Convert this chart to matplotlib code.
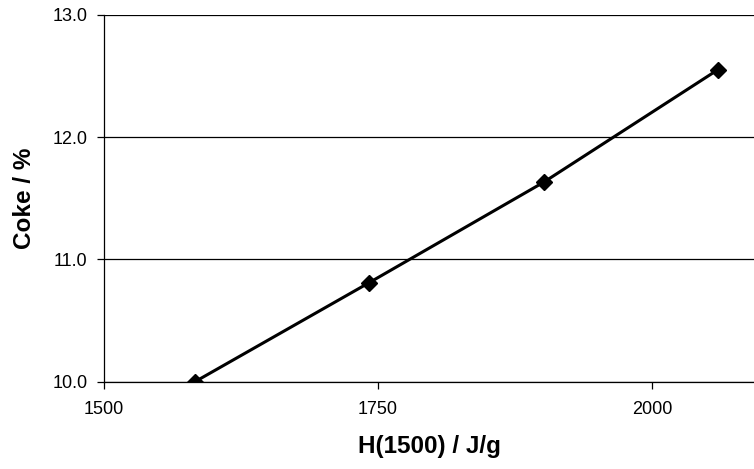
import matplotlib
matplotlib.use("Agg")
import matplotlib.pyplot as plt

# Datos
h1500 = [1583, 1742, 1901, 2060]
coke = [10.0, 10.81, 11.63, 12.55]
xticks = [1500, 1750, 2000]
yticks = [10.0, 11.0, 12.0, 13.0]

plt.rcParams["font.family"] = ["Liberation Sans", "DejaVu Sans"]

fig = plt.figure(figsize=(7.54, 4.69), dpi=100)
ax = fig.add_axes([104 / 754, 87.3 / 469, 650 / 754, 367 / 469])

ax.plot(h1500, coke, color="black", linewidth=2.2, marker="D", markersize=8, zorder=3)

ax.set_xlim(1500, 2093)
ax.set_ylim(10.0, 13.0)
ax.set_xticks(xticks)
ax.set_yticks(yticks)
ax.set_yticklabels([f"{v:.1f}" for v in yticks])
ax.grid(True, axis="y", color="black", linewidth=0.9)
ax.set_axisbelow(True)

for s in ["top", "right"]:
    ax.spines[s].set_visible(False)
ax.spines["left"].set_linewidth(0.9)
ax.spines["bottom"].set_linewidth(0.9)
ax.tick_params(direction="out", length=5, width=0.9, labelsize=13, colors="black")
ax.tick_params(axis="x", pad=9)
ax.tick_params(axis="y", pad=7)

ax.set_xlabel("H(1500) / J/g", fontsize=17.5, fontweight="bold", labelpad=12)
ax.set_ylabel("Coke / %", fontsize=17.5, fontweight="bold", labelpad=12)

fig.savefig("out.png", dpi=100)
